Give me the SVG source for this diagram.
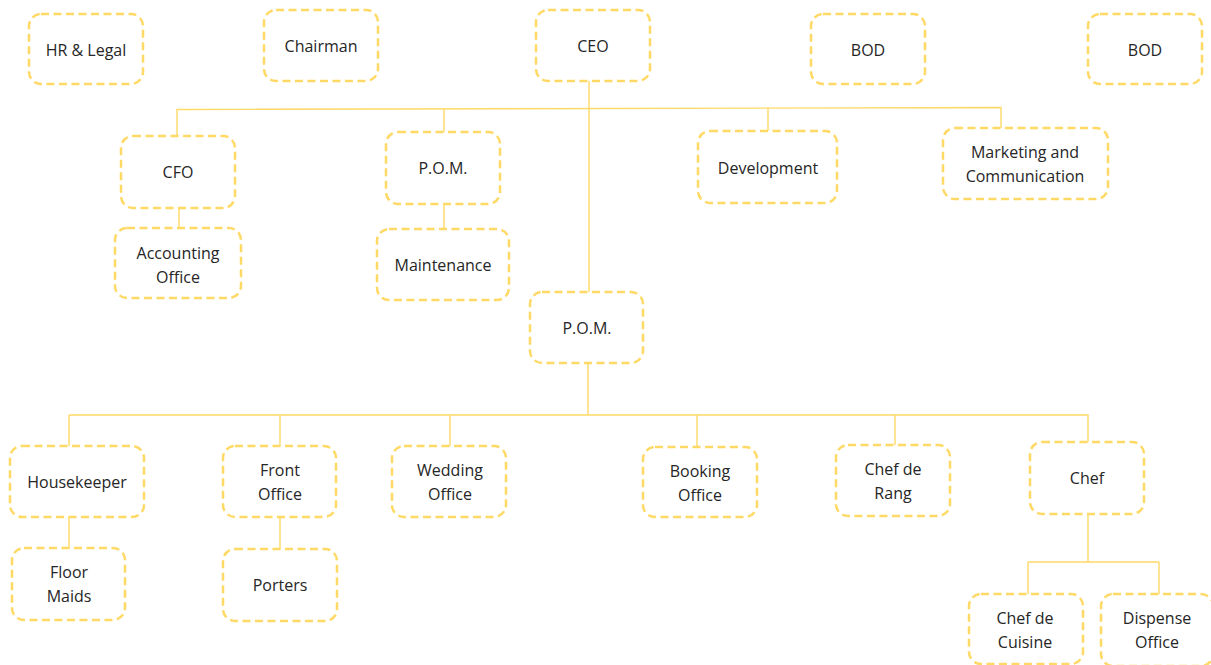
<svg xmlns="http://www.w3.org/2000/svg" width="1211" height="665" viewBox="0 0 1211 665">
<style>
.b{fill:#fff;stroke:#FFD966;stroke-width:2.5;stroke-dasharray:8 4.5}
.t{font-family:"Open Sans","Liberation Sans",sans-serif;font-size:16px;fill:#262626;text-anchor:middle;dominant-baseline:central}
.c{fill:none;stroke:#FFD966;stroke-width:1.4}
</style>
<rect width="1211" height="665" fill="#fff"/>
<g id="connectors">
<path class="c" d="M589 81V292"/>
<path class="c" d="M177 136V109.5L1001 107.5V128"/>
<path class="c" d="M444 109V132M768 108V131"/>
<path class="c" d="M179 208V228M444 204V229"/>
<path class="c" d="M588 363V415M69 415H1088V442M69 415V446M280 415V446M450 415V446M697 415V447M895 415V445"/>
<path class="c" d="M69 517V548M280 517V549"/>
<path class="c" d="M1088 514V562M1028 562H1159M1028 562V594M1159 562V594"/>
</g>
<g id="hr"><rect class="b" x="29" y="14" width="114" height="70" rx="12"/><text class="t" x="86" y="50">HR &amp; Legal</text></g>
<g id="chairman"><rect class="b" x="264" y="10" width="114" height="71" rx="12"/><text class="t" x="321" y="46">Chairman</text></g>
<g id="ceo"><rect class="b" x="536" y="10" width="114" height="71" rx="12"/><text class="t" x="593" y="46">CEO</text></g>
<g id="bod1"><rect class="b" x="811" y="14" width="114" height="70" rx="12"/><text class="t" x="868" y="50">BOD</text></g>
<g id="bod2"><rect class="b" x="1088" y="14" width="114" height="70" rx="12"/><text class="t" x="1145" y="50">BOD</text></g>
<g id="cfo"><rect class="b" x="121" y="136" width="114" height="72" rx="12"/><text class="t" x="178" y="172">CFO</text></g>
<g id="pom1"><rect class="b" x="386" y="132" width="114" height="72" rx="12"/><text class="t" x="443" y="168">P.O.M.</text></g>
<g id="development"><rect class="b" x="698" y="131" width="139" height="72" rx="12"/><text class="t" x="768" y="168">Development</text></g>
<g id="marketing"><rect class="b" x="943" y="128" width="165" height="71" rx="12"/><text class="t" x="1025" y="152">Marketing and</text><text class="t" x="1025" y="176">Communication</text></g>
<g id="accounting"><rect class="b" x="115" y="228" width="126" height="70" rx="12"/><text class="t" x="178" y="253">Accounting</text><text class="t" x="178" y="277">Office</text></g>
<g id="maintenance"><rect class="b" x="377" y="229" width="132" height="71" rx="12"/><text class="t" x="443" y="265">Maintenance</text></g>
<g id="pom2"><rect class="b" x="530" y="292" width="113" height="71" rx="12"/><text class="t" x="587" y="328">P.O.M.</text></g>
<g id="housekeeper"><rect class="b" x="10" y="446" width="134" height="71" rx="12"/><text class="t" x="77" y="482">Housekeeper</text></g>
<g id="frontoffice"><rect class="b" x="223" y="446" width="113" height="71" rx="12"/><text class="t" x="280" y="470">Front</text><text class="t" x="280" y="494">Office</text></g>
<g id="wedding"><rect class="b" x="392" y="446" width="114" height="71" rx="12"/><text class="t" x="450" y="470">Wedding</text><text class="t" x="450" y="494">Office</text></g>
<g id="booking"><rect class="b" x="643" y="447" width="114" height="70" rx="12"/><text class="t" x="700" y="471">Booking</text><text class="t" x="700" y="495">Office</text></g>
<g id="chefderang"><rect class="b" x="836" y="445" width="114" height="71" rx="12"/><text class="t" x="893" y="469">Chef de</text><text class="t" x="893" y="493">Rang</text></g>
<g id="chef"><rect class="b" x="1030" y="442" width="114" height="72" rx="12"/><text class="t" x="1087" y="478">Chef</text></g>
<g id="floormaids"><rect class="b" x="12" y="548" width="113" height="72" rx="12"/><text class="t" x="69" y="572">Floor</text><text class="t" x="69" y="596">Maids</text></g>
<g id="porters"><rect class="b" x="223" y="549" width="114" height="72" rx="12"/><text class="t" x="280" y="585">Porters</text></g>
<g id="chefdecuisine"><rect class="b" x="969" y="594" width="114" height="70" rx="12"/><text class="t" x="1025" y="618">Chef de</text><text class="t" x="1025" y="642">Cuisine</text></g>
<g id="dispense"><rect class="b" x="1101" y="594" width="112" height="72" rx="12"/><text class="t" x="1157" y="618">Dispense</text><text class="t" x="1157" y="642">Office</text></g>
</svg>
